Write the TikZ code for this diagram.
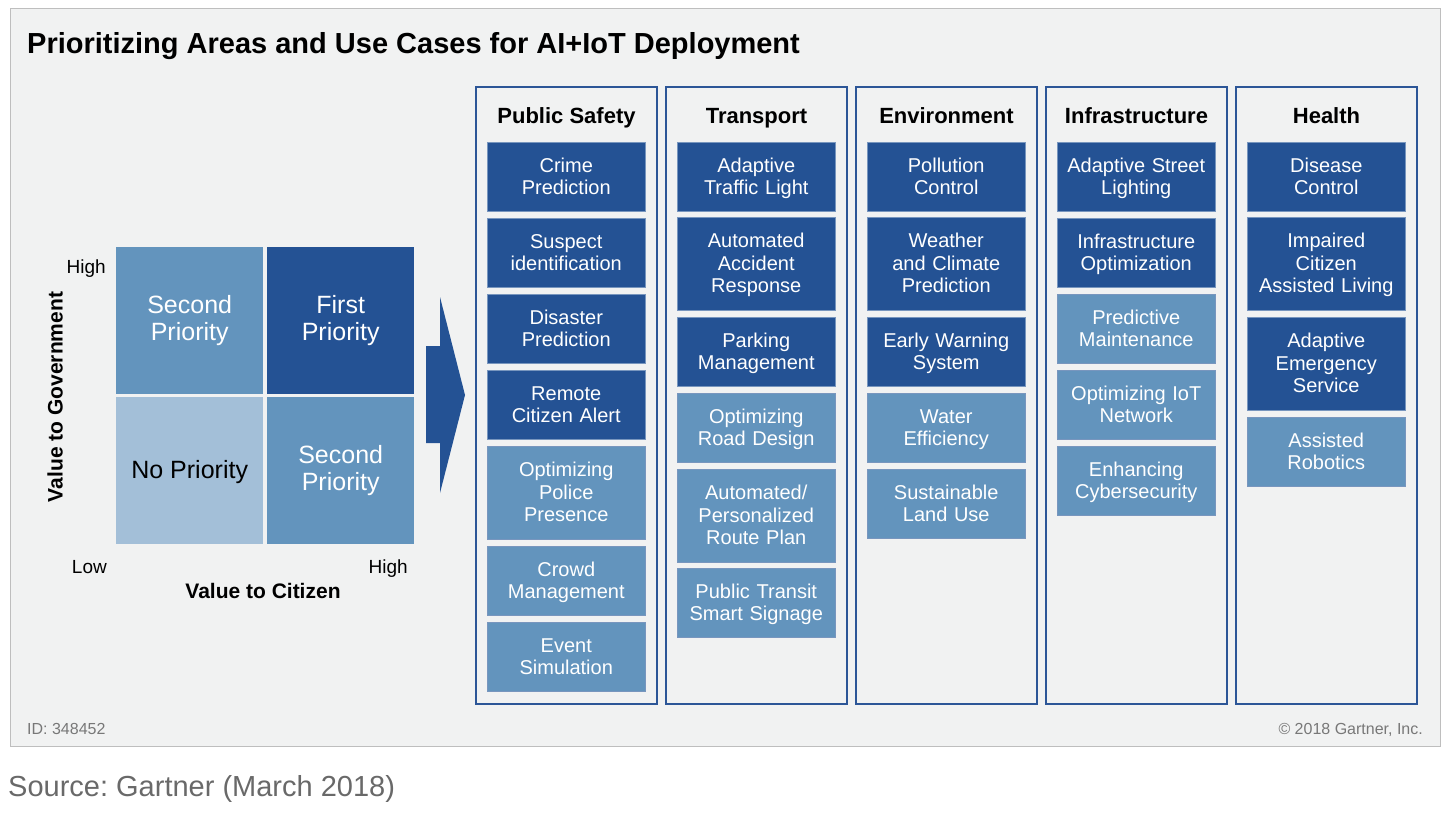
\documentclass[tikz,border=0pt]{standalone}
\usepackage{fontspec}
\setmainfont{Liberation Sans}
\definecolor{panelbg}{RGB}{241,242,242}
\definecolor{panelline}{RGB}{190,190,190}
\definecolor{dark}{RGB}{36,82,148}
\definecolor{medium}{RGB}{99,148,189}
\definecolor{light}{RGB}{163,191,216}
\definecolor{colline}{RGB}{44,86,151}
\definecolor{boxline}{RGB}{120,150,190}
\definecolor{foot}{RGB}{120,120,120}
\definecolor{src}{RGB}{105,105,105}
\newcommand\boxstrut{\rule[-4.75pt]{0pt}{22.5pt}}
\newcommand\cellstrut{\rule[-6.1pt]{0pt}{27pt}}
\tikzset{
  ub/.style={draw=boxline, line width=0.5pt, text=white, font=\fontsize{20}{22.5}\selectfont,
    align=center, minimum width=158pt, text width=156pt, inner sep=0pt, anchor=north west,
    execute at begin node=\boxstrut, execute at end node=\boxstrut},
  dk/.style={ub, fill=dark},
  md/.style={ub, fill=medium},
  two/.style={minimum height=69pt},
  three/.style={minimum height=93pt},
  colbox/.style={draw=colline, line width=2.6pt},
  colhead/.style={font=\fontsize{22}{26}\bfseries\selectfont, text=black, anchor=base, inner sep=0pt},
  cell/.style={minimum width=147pt, minimum height=147pt, inner sep=0pt, anchor=north west,
    align=center, font=\fontsize{25}{27}\selectfont,
    execute at begin node=\cellstrut, execute at end node=\cellstrut},
  axlab/.style={font=\fontsize{19}{22}\selectfont, text=black, inner sep=0pt},
  axtitle/.style={font=\fontsize{21}{24}\bfseries\selectfont, text=black, inner sep=0pt}
}
\begin{document}
\frenchspacing
\begin{tikzpicture}[x=1pt,y=-1pt]
\useasboundingbox (0,0) rectangle (1452,812);
% panel
\draw[fill=panelbg, draw=panelline, line width=1pt] (10,8) rectangle (1440,746);
\node[anchor=base west, inner sep=0pt, font=\fontsize{29}{32}\bfseries\selectfont] (title) at (27,53) {Prioritizing Areas and Use Cases for AI+IoT Deployment};

% matrix
\node[cell, fill=medium, text=white] (tl) at (116,247) {Second\\Priority};
\node[cell, fill=dark, text=white] (tr) at (267,247) {First\\Priority};
\node[cell, fill=light, text=black] (bl) at (116,397) {No Priority};
\node[cell, fill=medium, text=white] (br) at (267,397) {Second\\Priority};
\node[axlab, anchor=base east] (yhigh) at (106,273) {High};
\node[axlab, anchor=base east] (xlow) at (107,573) {Low};
\node[axlab, anchor=base east] (xhigh) at (408,573) {High};
\node[axtitle, anchor=base] (xtitle) at (263,598) {Value to Citizen};
\node[axtitle, rotate=90] (ytitle) at (55,397) {Value to Government};

% big arrow
\fill[dark] (426,346) -- (440,346) -- (440,297) -- (465,395) -- (440,493) -- (440,443) -- (426,443) -- cycle;

% columns
\foreach \cx in {476,666,856,1046,1236} {
  \draw[colbox] (\cx,87) rectangle ++(181,617);
}
\node[colhead] (h1) at (566.5,123) {Public Safety};
\node[colhead] (h2) at (756.5,123) {Transport};
\node[colhead] (h3) at (946.5,123) {Environment};
\node[colhead] (h4) at (1136.5,123) {Infrastructure};
\node[colhead] (h5) at (1326.5,123) {Health};

% Public Safety
\node[dk,two] (ps1) at (487,142) {Crime\\Prediction};
\node[dk,two] (ps2) at (487,218) {Suspect\\identification};
\node[dk,two] (ps3) at (487,294) {Disaster\\Prediction};
\node[dk,two] (ps4) at (487,370) {Remote\\Citizen Alert};
\node[md,three] (ps5) at (487,446) {Optimizing\\Police\\Presence};
\node[md,two] (ps6) at (487,546) {Crowd\\Management};
\node[md,two] (ps7) at (487,622) {Event\\Simulation};

% Transport
\node[dk,two] (tr1) at (677,142) {Adaptive\\Traffic Light};
\node[dk,three] (tr2) at (677,217) {Automated\\Accident\\Response};
\node[dk,two] (tr3) at (677,317) {Parking\\Management};
\node[md,two] (tr4) at (677,393) {Optimizing\\Road Design};
\node[md,three] (tr5) at (677,469) {Automated/\\Personalized\\Route Plan};
\node[md,two] (tr6) at (677,568) {Public Transit\\Smart Signage};

% Environment
\node[dk,two] (en1) at (867,142) {Pollution\\Control};
\node[dk,three] (en2) at (867,217) {Weather\\and Climate\\Prediction};
\node[dk,two] (en3) at (867,317) {Early Warning\\System};
\node[md,two] (en4) at (867,393) {Water\\Efficiency};
\node[md,two] (en5) at (867,469) {Sustainable\\Land Use};

% Infrastructure
\node[dk,two] (in1) at (1057,142) {Adaptive Street\\Lighting};
\node[dk,two] (in2) at (1057,218) {Infrastructure\\Optimization};
\node[md,two] (in3) at (1057,294) {Predictive\\Maintenance};
\node[md,two] (in4) at (1057,370) {Optimizing IoT\\Network};
\node[md,two] (in5) at (1057,446) {Enhancing\\Cybersecurity};

% Health
\node[dk,two] (he1) at (1247,142) {Disease\\Control};
\node[dk,three] (he2) at (1247,217) {Impaired\\Citizen\\Assisted Living};
\node[dk,three] (he3) at (1247,317) {Adaptive\\Emergency\\Service};
\node[md,two] (he4) at (1247,417) {Assisted\\Robotics};

% footer
\node[anchor=base west, inner sep=0pt, text=foot, font=\fontsize{16}{18}\selectfont] (id) at (27,734) {ID: 348452};
\node[anchor=base east, inner sep=0pt, text=foot, font=\fontsize{16}{18}\selectfont] (copy) at (1423,734) {\textcopyright\ 2018 Gartner, Inc.};
\node[anchor=base west, inner sep=0pt, text=src, font=\fontsize{29}{32}\selectfont] (source) at (8,796) {Source: Gartner (March 2018)};
\end{tikzpicture}
\end{document}
